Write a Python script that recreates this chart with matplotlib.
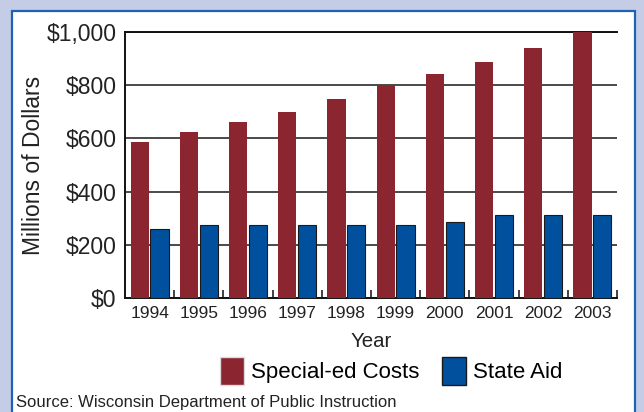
import numpy as np
import matplotlib
matplotlib.use('Agg')
import matplotlib.pyplot as plt
from matplotlib.patches import Rectangle, Patch
from matplotlib.ticker import FuncFormatter

years = ['1994', '1995', '1996', '1997', '1998', '1999', '2000', '2001', '2002', '2003']
special_ed = [586, 624, 662, 699, 748, 801, 842, 888, 940, 1000]
state_aid = [259, 274, 274, 274, 274, 274, 286, 313, 313, 313]

red = '#8b2630'
blue = '#00509e'

plt.rcParams['font.family'] = ['Liberation Sans', 'DejaVu Sans']

fig = plt.figure(figsize=(6.44, 4.12), dpi=100, facecolor='#c5cde6')
fig.patches.append(Rectangle((12 / 644, -0.05), 623 / 644, 1 - 11 / 412 + 0.05,
                             transform=fig.transFigure, facecolor='white',
                             edgecolor='#1d62b5', lw=1.6, zorder=-10))

ax = fig.add_axes([125 / 644, 1 - 298 / 412, 492 / 644, 266 / 412])
ax.set_facecolor('none')

x = np.arange(len(years))
w = 0.37
ax.bar(x - 0.2, special_ed, w, color=red, zorder=3)
ax.bar(x + 0.2, state_aid, w, color=blue, edgecolor='#1a1a1a', lw=0.8, zorder=3)

ax.set_xlim(-0.5, len(years) - 0.5)
ax.set_ylim(0, 1000)
ax.set_yticks([0, 200, 400, 600, 800, 1000])
ax.yaxis.set_major_formatter(FuncFormatter(lambda v, p: f'${v:,.0f}'))
ax.set_xticks(x)
ax.set_xticklabels(years)
ax.set_xticks(np.arange(0.5, len(years)), minor=True)
ax.tick_params(axis='x', which='major', length=0, labelsize=12.5, pad=6, colors='#222222')
ax.tick_params(axis='x', which='minor', direction='in', length=6, width=1.2, color='#222222')
ax.tick_params(axis='y', length=0, labelsize=16.5, pad=6, colors='#222222')

ax.grid(axis='y', color='#4a4a4a', lw=1.4, zorder=1)
for s in ['right']:
    ax.spines[s].set_visible(False)
for s in ['left', 'bottom', 'top']:
    ax.spines[s].set_color('#111111')
    ax.spines[s].set_linewidth(1.4)

ax.set_xlabel('Year', fontsize=14.7, labelpad=8, color='#222222')
ax.set_ylabel('Millions of Dollars', fontsize=16.5, labelpad=1, color='#222222')

handles = [Patch(facecolor=red, edgecolor='#dddddd', label='Special-ed Costs'),
           Patch(facecolor=blue, edgecolor='#1a1a1a', label='State Aid')]
fig.legend(handles=handles, loc='center', bbox_to_anchor=(391 / 644, 1 - 371 / 412),
           ncol=2, frameon=False, fontsize=16, handlelength=1.1, handleheight=1.6,
           handletextpad=0.3, columnspacing=1.0)

fig.text(16 / 644, 1 - 402 / 412, 'Source: Wisconsin Department of Public Instruction',
         fontsize=12, color='#222222', va='center', ha='left')

fig.savefig('out.png', dpi=100, facecolor=fig.get_facecolor())
